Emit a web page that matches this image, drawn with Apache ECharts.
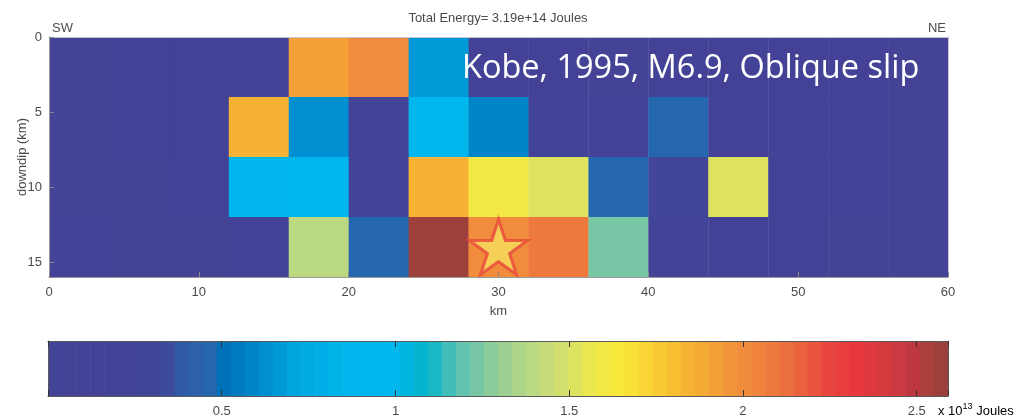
<!DOCTYPE html>
<html>
<head>
<meta charset="utf-8">
<script src="https://cdn.jsdelivr.net/npm/echarts@6/dist/echarts.min.js"></script>
<style>
  html, body { margin: 0; padding: 0; background: #fff; }
  #chart { width: 1027px; height: 418px; }
</style>
</head>
<body>
<div id="chart"></div>
<script>
// Radiated energy per 4 km x 4 km subfault of the Kobe rupture, in units of 1e13 J
const alongStrikeKm = [0, 4, 8, 12, 16, 20, 24, 28, 32, 36, 40, 44, 48, 52, 56];
const downdipStartKm = [0, 4, 8, 12];
const patchKm = 4;

const energyRow0 = [0.08, 0.10, 0.12, 0.20, 1.92, 2.00, 0.68, 0.15, 0.10, 0.08, 0.12, 0.10, 0.09, 0.10, 0.08];
const energyRow1 = [0.06, 0.14, 0.12, 1.84, 0.62, 0.20, 0.90, 0.58, 0.18, 0.22, 0.46, 0.15, 0.12, 0.10, 0.08];
const energyRow2 = [0.05, 0.08, 0.10, 0.85, 0.92, 0.22, 1.84, 1.60, 1.50, 0.46, 0.25, 1.50, 0.14, 0.10, 0.07];
const energyRow3 = [0.01, 0.06, 0.08, 0.12, 1.39, 0.46, 2.59, 2.00, 2.08, 1.22, 0.20, 0.15, 0.10, 0.08, 0.05];
const energyRows = [energyRow0, energyRow1, energyRow2, energyRow3];

const hypocenter = [30, 14];
const colorbarTicks = [0.5, 1, 1.5, 2, 2.5];
const colorMin = 0;
const colorMax = 2.59;
const colorLevels = 64;

const totalEnergyLabel = 'Total Energy= 3.19e+14 Joules';
const eventLabel = 'Kobe, 1995, M6.9, Oblique slip';

// Colour map anchors (energy value -> colour)
const cmapStops = [
  [0.00, '#434497'], [0.12, '#444296'], [0.24, '#434498'], [0.34, '#3f489a'],
  [0.36, '#2f56a4'], [0.46, '#2b66ae'], [0.50, '#0070b7'], [0.60, '#0088cc'],
  [0.72, '#00a8e2'], [0.85, '#00b6ec'], [1.00, '#00b8ee'], [1.05, '#00b5d6'],
  [1.10, '#0cb6c8'], [1.18, '#5bc2b2'], [1.25, '#7fc9a2'], [1.33, '#a5d28d'],
  [1.42, '#c2db7c'], [1.49, '#d5e06a'], [1.57, '#efe849'], [1.65, '#f9e93a'],
  [1.76, '#f9ca33'], [1.85, '#f6b133'], [2.00, '#f08d3c'], [2.14, '#ec6c3e'],
  [2.25, '#e8443e'], [2.32, '#e8383d'], [2.44, '#ce3b40'], [2.50, '#b93540'],
  [2.53, '#aa413d'], [2.59, '#963f3a']
];

function hexToRgb(h) {
  return [parseInt(h.slice(1, 3), 16), parseInt(h.slice(3, 5), 16), parseInt(h.slice(5, 7), 16)];
}
function cmapAt(v) {
  if (v <= cmapStops[0][0]) return cmapStops[0][1];
  for (let i = 1; i < cmapStops.length; i++) {
    if (v <= cmapStops[i][0]) {
      const [v0, c0] = cmapStops[i - 1], [v1, c1] = cmapStops[i];
      const t = (v - v0) / (v1 - v0);
      const a = hexToRgb(c0), b = hexToRgb(c1);
      const m = a.map((x, k) => Math.round(x + (b[k] - x) * t));
      return 'rgb(' + m.join(',') + ')';
    }
  }
  return cmapStops[cmapStops.length - 1][1];
}
const levelStep = (colorMax - colorMin) / colorLevels;
function levelIndex(v) {
  return Math.max(0, Math.min(colorLevels - 1, Math.floor((v - colorMin) / levelStep)));
}
function levelColor(i) {
  return cmapAt(colorMin + (i + 0.5) * levelStep);
}

// Subfault cells: [x start, depth start, energy]
const cellData = [];
energyRows.forEach((row, r) => {
  row.forEach((e, c) => cellData.push([alongStrikeKm[c], downdipStartKm[r], e]));
});
// Colour bar bands: [band start, band index]
const bandData = [];
for (let i = 0; i < colorLevels; i++) bandData.push([colorMin + i * levelStep, i]);

const FONT = 'Liberation Sans, Arial, Helvetica, sans-serif';
const TXT = '#4a4a4a';

const chart = echarts.init(document.getElementById('chart'), null, { renderer: 'canvas' });

const starPath = 'path://M50 0 L61.2 34.5 L97.6 34.5 L68.2 55.9 L79.4 90.5 L50 69.1 L20.6 90.5 L31.8 55.9 L2.4 34.5 L38.8 34.5 Z';

const plainLine = (color) => ({ show: true, onZero: false, lineStyle: { color: color, width: 1 } });

chart.setOption({
  animation: false,
  backgroundColor: '#ffffff',
  grid: [
    { left: 49, top: 37, width: 899, height: 240, containLabel: false, outerBoundsMode: 'none' },
    { left: 48, top: 341, width: 900, height: 55, containLabel: false, outerBoundsMode: 'none' }
  ],
  xAxis: [
    {
      gridIndex: 0, type: 'value', position: 'bottom', min: 0, max: 60, interval: 10, z: 5,
      name: 'km', nameLocation: 'middle', nameGap: 28, nameMoveOverlap: false,
      nameTextStyle: { color: TXT, fontSize: 13, fontFamily: FONT },
      axisLine: plainLine('#9a9a9a'),
      axisTick: { inside: true, length: 5, lineStyle: { color: '#8a8a8a' } },
      axisLabel: { margin: 9, color: TXT, fontSize: 13, fontFamily: FONT },
      splitLine: { show: false }
    },
    {
      gridIndex: 0, type: 'value', position: 'top', min: 0, max: 60, interval: 10, z: 5,
      axisLine: plainLine('#c4c4d4'),
      axisTick: { show: false }, axisLabel: { show: false }, splitLine: { show: false }
    },
    {
      gridIndex: 1, type: 'value', position: 'bottom', min: colorMin, max: colorMax, interval: 0.5, z: 5,
      axisLine: plainLine('#5a5a5a'),
      axisTick: { inside: true, length: 6, lineStyle: { color: '#333' } },
      axisLabel: {
        margin: 9, color: TXT, fontSize: 13, fontFamily: FONT,
        formatter: v => colorbarTicks.some(t => Math.abs(t - v) < 1e-6) ? String(v) : ''
      },
      splitLine: { show: false }
    },
    {
      gridIndex: 1, type: 'value', position: 'top', min: colorMin, max: colorMax, interval: 0.5, z: 5,
      axisLine: plainLine('#5a5a5a'),
      axisTick: { inside: true, length: 6, lineStyle: { color: '#333' } },
      axisLabel: { show: false }, splitLine: { show: false }
    }
  ],
  yAxis: [
    {
      gridIndex: 0, type: 'value', position: 'left', inverse: true, min: 0, max: 16, interval: 5, z: 5,
      name: 'downdip (km)', nameLocation: 'middle', nameGap: 20, nameRotate: 90, nameMoveOverlap: false,
      nameTextStyle: { color: TXT, fontSize: 13, fontFamily: FONT },
      axisLine: plainLine('#9a9a9a'),
      axisTick: { show: true, inside: true, length: 5, lineStyle: { color: '#8a8a8a' } },
      axisLabel: {
        margin: 7, color: TXT, fontSize: 13, fontFamily: FONT,
        formatter: v => (v % 5 === 0 ? String(v) : '')
      },
      splitLine: { show: false }
    },
    {
      gridIndex: 0, type: 'value', position: 'right', inverse: true, min: 0, max: 16, z: 5,
      axisLine: plainLine('#c4c4d4'),
      axisTick: { show: false }, axisLabel: { show: false }, splitLine: { show: false }
    },
    {
      gridIndex: 1, type: 'value', position: 'left', min: 0, max: 1, z: 5,
      axisLine: plainLine('#5a5a5a'),
      axisTick: { show: false }, axisLabel: { show: false }, splitLine: { show: false }
    },
    {
      gridIndex: 1, type: 'value', position: 'right', min: 0, max: 1, z: 5,
      axisLine: plainLine('#5a5a5a'),
      axisTick: { show: false }, axisLabel: { show: false }, splitLine: { show: false }
    }
  ],
  series: [
    {
      type: 'custom', name: 'subfault energy', xAxisIndex: 0, yAxisIndex: 0, z: 1,
      data: cellData,
      renderItem(params, api) {
        const x0 = api.value(0), y0 = api.value(1), e = api.value(2);
        const p0 = api.coord([x0, y0]);
        const p1 = api.coord([x0 + patchKm, y0 + patchKm]);
        const c = levelColor(levelIndex(e));
        return {
          type: 'rect',
          shape: {
            x: Math.min(p0[0], p1[0]), y: Math.min(p0[1], p1[1]),
            width: Math.abs(p1[0] - p0[0]) + 0.4, height: Math.abs(p1[1] - p0[1]) + 0.4
          },
          style: { fill: c }
        };
      }
    },
    {
      type: 'scatter', name: 'hypocenter', xAxisIndex: 0, yAxisIndex: 0, z: 4,
      data: [hypocenter],
      symbol: starPath, symbolSize: [58, 55],
      itemStyle: { color: '#f6e05c', borderColor: '#e8473c', borderWidth: 3 }
    },
    {
      type: 'custom', name: 'colorbar', xAxisIndex: 2, yAxisIndex: 2, z: 1,
      data: bandData,
      renderItem(params, api) {
        const x0 = api.value(0), i = api.value(1);
        const p0 = api.coord([x0, 1]);
        const p1 = api.coord([x0 + levelStep, 0]);
        return {
          type: 'rect',
          shape: { x: p0[0], y: p0[1], width: p1[0] - p0[0] + 0.6, height: p1[1] - p0[1] },
          style: { fill: levelColor(i) }
        };
      }
    }
  ],
  graphic: [
    {
      type: 'text', x: 498, y: 18, z: 10,
      style: { text: totalEnergyLabel, fill: TXT, font: '13px ' + FONT, textAlign: 'center', textVerticalAlign: 'middle' }
    },
    {
      type: 'text', x: 52, y: 28, z: 10,
      style: { text: 'SW', fill: TXT, font: '13px ' + FONT, textAlign: 'left', textVerticalAlign: 'middle' }
    },
    {
      type: 'text', x: 946, y: 28, z: 10,
      style: { text: 'NE', fill: TXT, font: '13px ' + FONT, textAlign: 'right', textVerticalAlign: 'middle' }
    },
    {
      type: 'text', x: 462, y: 69, z: 10,
      style: { text: eventLabel, fill: '#ffffff', font: '32.5px "Open Sans", sans-serif', textAlign: 'left', textVerticalAlign: 'middle' }
    },
    {
      type: 'text', x: 938, y: 410, z: 10,
      style: {
        text: '{a|x 10}{s|13}{a| Joules}',
        textAlign: 'left', textVerticalAlign: 'middle',
        rich: {
          a: { fontSize: 13, fontFamily: FONT, color: TXT, verticalAlign: 'bottom', lineHeight: 16 },
          s: { fontSize: 9, fontFamily: FONT, color: TXT, verticalAlign: 'top', lineHeight: 16, padding: [0, 0, 8, 0] }
        }
      }
    }
  ]
});
</script>
</body>
</html>
